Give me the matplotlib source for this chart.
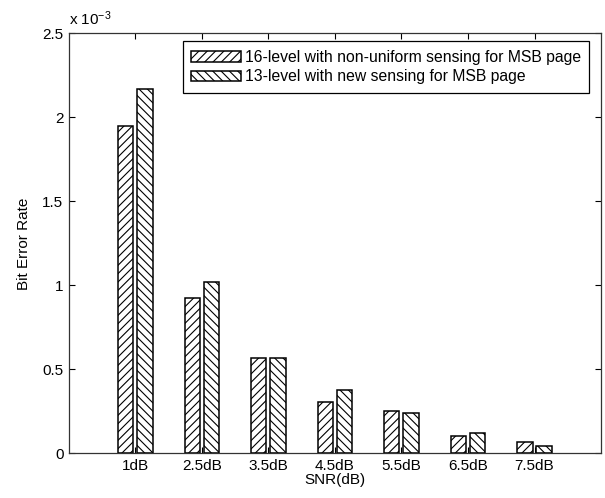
import matplotlib
matplotlib.use("Agg")
import matplotlib.pyplot as plt
import numpy as np

plt.rcParams['font.family'] = ['Liberation Sans', 'DejaVu Sans']
plt.rcParams['mathtext.fontset'] = 'custom'
plt.rcParams['mathtext.rm'] = 'Liberation Sans'
plt.rcParams['mathtext.it'] = 'Liberation Sans'
plt.rcParams['hatch.linewidth'] = 0.8

categories = ['1dB', '2.5dB', '3.5dB', '4.5dB', '5.5dB', '6.5dB', '7.5dB']
# Bit error rate in units of 1e-3
ber_16level = [1.95, 0.925, 0.567, 0.303, 0.253, 0.100, 0.070]
ber_13level = [2.17, 1.02, 0.567, 0.377, 0.238, 0.122, 0.041]
series_labels = ['16-level with non-uniform sensing for MSB page',
                 '13-level with new sensing for MSB page']
yticks = [0, 0.5, 1, 1.5, 2, 2.5]
ytick_labels = ['0', '0.5', '1', '1.5', '2', '2.5']

fig = plt.figure(figsize=(6.05, 4.98), dpi=100)
ax = fig.add_axes([0.114, 0.0898, 0.8794, 0.8432])

x = np.arange(1, len(categories) + 1)
w = 0.23
off = 0.145
ax.bar(x - off, ber_16level, width=w, color='white', edgecolor='black',
       linewidth=1.1, hatch='////', label=series_labels[0])
ax.bar(x + off, ber_13level, width=w, color='white', edgecolor='black',
       linewidth=1.1, hatch='\\\\\\\\', label=series_labels[1])

ax.set_xlim(0, 8)
ax.set_ylim(0, 2.5)
ax.set_xticks(x)
ax.set_xticklabels(categories)
ax.set_yticks(yticks)
ax.set_yticklabels(ytick_labels)
ax.tick_params(direction='in', length=4, width=0.8, top=True, right=True,
               labelsize=11, colors='black', pad=4)
for s in ax.spines.values():
    s.set_linewidth(0.9)
    s.set_color('#333333')

ax.set_xlabel('SNR(dB)', fontsize=11, labelpad=0)
ax.set_ylabel('Bit Error Rate', fontsize=11, labelpad=8)
ax.text(0.0, 1.012, r'x 10$^{-3}$', transform=ax.transAxes, fontsize=11,
        ha='left', va='bottom')

leg = ax.legend(loc='upper right', bbox_to_anchor=(0.978, 0.981),
                borderaxespad=0, fancybox=False, edgecolor='black',
                prop={'size': 11.3}, handlelength=3.2, handleheight=0.67,
                handletextpad=0.2, labelspacing=0.28, borderpad=0.55,
                framealpha=1)
leg.get_frame().set_linewidth(0.9)

fig.savefig('out.png', dpi=100)
